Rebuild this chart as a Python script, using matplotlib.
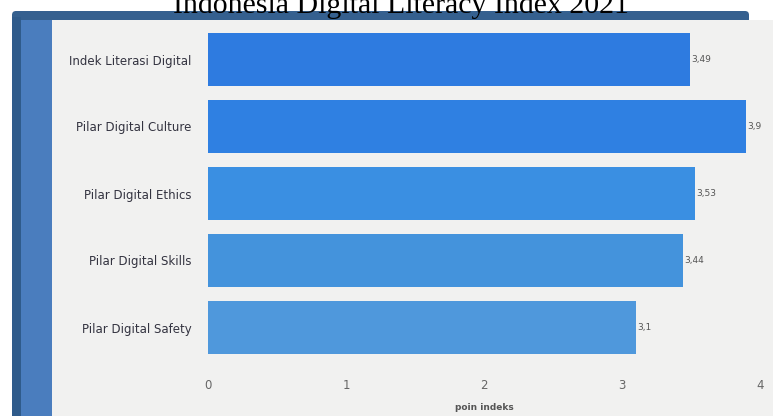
import matplotlib
matplotlib.use("Agg")
import matplotlib.pyplot as plt
from matplotlib.patches import Rectangle, FancyBboxPatch

title = "Indonesia Digital Literacy Index 2021"
categories = ["Indek Literasi Digital", "Pilar Digital Culture", "Pilar Digital Ethics",
              "Pilar Digital Skills", "Pilar Digital Safety"]
values = [3.49, 3.9, 3.53, 3.44, 3.1]
value_labels = ["3,49", "3,9", "3,53", "3,44", "3,1"]
bar_colors = ["#2e7be0", "#2f80e2", "#3a8fe2", "#4493dc", "#4f98dc"]
xticks = [0, 1, 2, 3, 4]
xlabel = "poin indeks"

W, H = 773, 416
fig = plt.figure(figsize=(W / 100, H / 100), dpi=100)
fig.patch.set_facecolor("white")

# background frame (pixel coordinates)
bg = fig.add_axes([0, 0, 1, 1])
bg.set_xlim(0, W)
bg.set_ylim(H, 0)
bg.axis("off")
bg.add_patch(Rectangle((52, 20), W - 52, H - 20, facecolor="#f1f1f0", edgecolor="none"))
bg.add_patch(FancyBboxPatch((12, 11), 737, 12, boxstyle="round,pad=0,rounding_size=4",
                            facecolor="#35608f", edgecolor="none"))
bg.add_patch(Rectangle((12, 17), 9, H - 17, facecolor="#2f5b8b", edgecolor="none"))
bg.add_patch(Rectangle((21, 20), 31, H - 20, facecolor="#4a7dbe", edgecolor="none"))
bg.add_patch(Rectangle((52, 20), 697, 4, facecolor="#f1f1f0", edgecolor="none"))
bg.text(401, 13, title, ha="center", va="baseline", fontsize=21.5,
        family="Liberation Serif", color="black", zorder=5)

# chart axes
left, right = 208, 760
top, bottom = 26, 361
ax = fig.add_axes([left / W, 1 - bottom / H, (right - left) / W, (bottom - top) / H])
ax.patch.set_alpha(0)
y = list(range(len(categories)))
ax.barh(y, values, height=0.8, color=bar_colors, edgecolor="none")
ax.set_xlim(0, 4)
ax.set_ylim(len(categories) - 0.5, -0.5)
for s in ax.spines.values():
    s.set_visible(False)
ax.set_yticks(y)
ax.set_yticklabels(categories, fontsize=8.5, color="#333340")
ax.set_xticks(xticks)
ax.set_xticklabels([str(t) for t in xticks], fontsize=8.5, color="#666666")
ax.tick_params(axis="y", length=0, pad=12)
ax.tick_params(axis="x", length=0, pad=13)
for yi, v, lab in zip(y, values, value_labels):
    ax.text(v + 0.01, yi, lab, va="center", ha="left", fontsize=6.5, color="#555555",
            clip_on=False)
ax.set_xlabel(xlabel, fontsize=6.5, fontweight="bold", color="#555555", labelpad=8)

fig.savefig("out.png", dpi=100)
